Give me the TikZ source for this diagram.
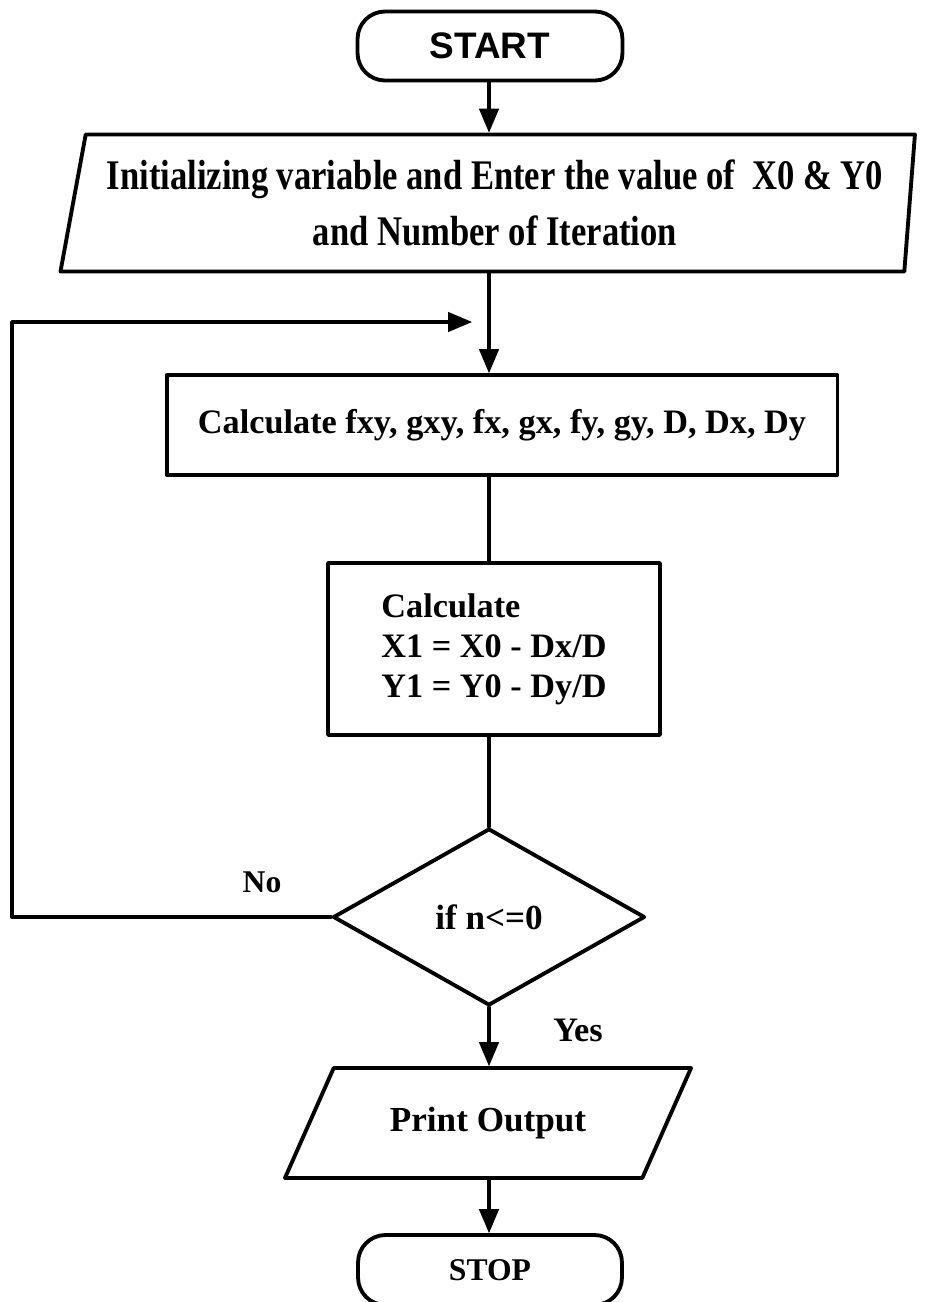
\documentclass[tikz,border=0pt]{standalone}
\usepackage{fontspec}
\setmainfont{Liberation Serif}
\setsansfont{Liberation Sans}
\newfontfamily\narrowfont[FakeStretch=0.82]{Liberation Serif}
\usetikzlibrary{arrows,shapes.geometric}

\tikzset{
  termbox/.style={draw,line width=2.2pt,rounded corners=0.55cm,minimum width=5.3cm,minimum height=1.38cm},
  iobox/.style={draw,line width=2.2pt,trapezium,trapezium stretches=true},
  procbox/.style={draw,line width=2.2pt,rectangle},
  decbox/.style={draw,line width=2.2pt,diamond,minimum width=6.24cm,minimum height=3.54cm,inner sep=0pt},
  link/.style={line width=2.2pt},
  boldtext/.style={font=\bfseries\fontsize{19.5}{23}\selectfont}
}

\begin{document}
\begin{tikzpicture}[line cap=round,line join=round,>=triangle 45,x=0.02cm,y=-0.02cm]
\useasboundingbox[fill=white] (0,0) rectangle (926,1302);
\node[termbox,font=\sffamily\bfseries\fontsize{21}{24}\selectfont] (start) at (490,46) {START};
\node[iobox,trapezium left angle=76,trapezium right angle=96,minimum width=17.22cm,minimum height=2.74cm,
  align=center,font=\narrowfont\bfseries\fontsize{24}{31.5}\selectfont] (input) at (495,203)
  {Initializing variable and Enter the value of~ X0 \& Y0\\ and Number of Iteration};
\node[procbox,boldtext,minimum width=13.42cm,minimum height=2cm] (calc) at (502,425)
  {Calculate fxy, gxy, fx, gx, fy, gy, D, Dx, Dy};
\node[procbox,minimum width=6.64cm,minimum height=3.44cm,align=left,font=\bfseries\fontsize{19.5}{22.8}\selectfont] (newxy) at (494,649)
  {Calculate\\ X1 = X0 - Dx/D\\ Y1 = Y0 - Dy/D};
\node[decbox,font=\bfseries\fontsize{20}{23}\selectfont] (check) at (489,917) {if n<=0};
\node[iobox,boldtext,font=\bfseries\fontsize{20}{23}\selectfont,trapezium left angle=53,trapezium right angle=127,minimum width=8.14cm,minimum height=2.2cm] (print) at (488,1123)
  {Print Output};
\node[termbox,boldtext,font=\bfseries\fontsize{18}{22}\selectfont,minimum width=5.28cm,minimum height=1.4cm] (stop) at (490,1270) {STOP};
\node[boldtext,font=\bfseries\fontsize{18}{22}\selectfont] (no) at (262,882) {No};
\node[boldtext] (yes) at (578,1030) {Yes};
\coordinate (loopin) at (472,322);
\coordinate (loopcorner) at (12,917);
% main flow
\draw[link,->] (start.south -| check.north) -- (input.north -| check.north);
\draw[link,->] (input.south -| check.north) -- (calc.north -| check.north);
\draw[link] (calc.south -| check.north) -- (newxy.north -| check.north);
\draw[link] (newxy.south -| check.north) -- (check.north);
\draw[link,->] (check.south) -- (print.north -| check.south);
\draw[link,->] (print.south -| check.south) -- (stop.north -| check.south);
% back to the loop
\draw[link,->] (check.west) -- (loopcorner) |- (loopin);
\end{tikzpicture}
\end{document}
